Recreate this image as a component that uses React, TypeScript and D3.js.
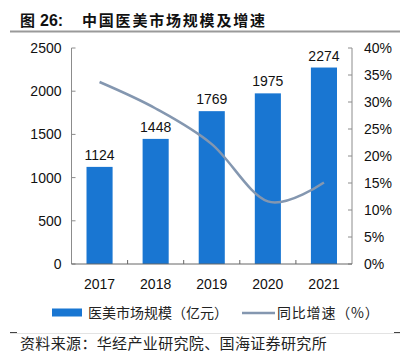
import React from "react";
import * as d3 from "d3";

const years = ["2017", "2018", "2019", "2020", "2021"];
const marketSize = [1124, 1448, 1769, 1975, 2274];
const growth = [33.7, 28.8, 22.2, 11.6, 15.1];
const leftTicks = [0, 500, 1000, 1500, 2000, 2500];
const rightTicks = [0, 5, 10, 15, 20, 25, 30, 35, 40];

const W = 404, H = 353;
const L = 71.5, R = 352, T = 48, B = 264;
const num = "'Liberation Sans', Arial, sans-serif";
const cjk = "'Noto Sans CJK SC', sans-serif";

export default function App() {
  const x = d3.scaleBand().domain(years).range([L, R]).paddingInner(0.535).paddingOuter(0.2675);
  const y = d3.scaleLinear().domain([0, 2500]).range([B, T]);
  const y2 = d3.scaleLinear().domain([0, 40]).range([B, T]);
  const step = x.step();
  const line = d3
    .line<number>()
    .x((_, i) => (x(years[i]) as number) + x.bandwidth() / 2)
    .y((d) => y2(d))
    .curve(d3.curveCardinal.tension(0));
  const axisColor = "#8c8c8c";
  return (
    <svg width={W} height={H} style={{ position: "absolute", left: 0, top: 0, background: "#fff" }}>
      <text x={20} y={26} fontFamily={cjk} fontSize={15} fontWeight="bold" fill="#111">
        图
        <tspan x={40} fontFamily={num} fontSize={16}>26:</tspan>
        <tspan x={82} letterSpacing={1.8}>中国医美市场规模及增速</tspan>
      </text>
      <line x1={10} x2={400} y1={31.5} y2={31.5} stroke="#9a9a9a" strokeWidth={2} />

      {years.map((yr, i) => (
        <g key={yr}>
          <rect x={x(yr)} y={y(marketSize[i])} width={x.bandwidth()} height={B - y(marketSize[i])} fill="#1976d2" />
          <text x={(x(yr) as number) + x.bandwidth() / 2} y={y(marketSize[i]) - 7} textAnchor="middle" fontFamily={num} fontSize={14} fill="#111">
            {marketSize[i]}
          </text>
          <text x={(x(yr) as number) + x.bandwidth() / 2} y={289} textAnchor="middle" fontFamily={num} fontSize={14} fill="#111">
            {yr}
          </text>
        </g>
      ))}

      <path d={line(growth) || ""} fill="none" stroke="#8497b0" strokeWidth={2.5} />

      {/* left axis */}
      <line x1={L} x2={L} y1={T} y2={B} stroke={axisColor} />
      {leftTicks.map((t) => (
        <g key={t}>
          <line x1={L} x2={L + 4} y1={y(t)} y2={y(t)} stroke={axisColor} />
          <text x={L - 10} y={y(t)} dy="0.35em" textAnchor="end" fontFamily={num} fontSize={14} fill="#111">
            {t}
          </text>
        </g>
      ))}
      {/* right axis */}
      <line x1={R} x2={R} y1={T} y2={B} stroke={axisColor} />
      {rightTicks.map((t) => (
        <g key={t}>
          <line x1={R - 4} x2={R} y1={y2(t)} y2={y2(t)} stroke={axisColor} />
          <text x={R + 12} y={y2(t)} dy="0.35em" textAnchor="start" fontFamily={num} fontSize={14} fill="#111">
            {t}%
          </text>
        </g>
      ))}
      {/* bottom axis */}
      <line x1={L} x2={R} y1={B} y2={B} stroke="#666" />
      {years.slice(1).map((yr) => (
        <line key={yr} x1={(x(yr) as number) - (step - x.bandwidth()) / 2} x2={(x(yr) as number) - (step - x.bandwidth()) / 2} y1={B} y2={B - 4} stroke="#666" />
      ))}

      {/* legend */}
      <rect x={52} y={308.5} width={30} height={8} fill="#1976d2" />
      <text x={88} y={313} dy="0.35em" fontFamily={cjk} fontSize={14} fill="#222">医美市场规模（亿元）</text>
      <line x1={242} x2={275} y1={313} y2={313} stroke="#8497b0" strokeWidth={2.5} />
      <text x={277} y={313} dy="0.35em" fontFamily={cjk} fontSize={14} letterSpacing={0.8} fill="#222">同比增速（%）</text>

      {/* source */}
      <line x1={10} x2={400} y1={333.5} y2={333.5} stroke="#e3e3e3" />
      <line x1={10} x2={17} y1={332.5} y2={332.5} stroke="#444" />
      <line x1={394} x2={400} y1={332.5} y2={332.5} stroke="#444" />
      <text x={20} y={349} fontFamily={cjk} fontSize={15} letterSpacing={0.35} fill="#222">资料来源：华经产业研究院、国海证券研究所</text>
    </svg>
  );
}
